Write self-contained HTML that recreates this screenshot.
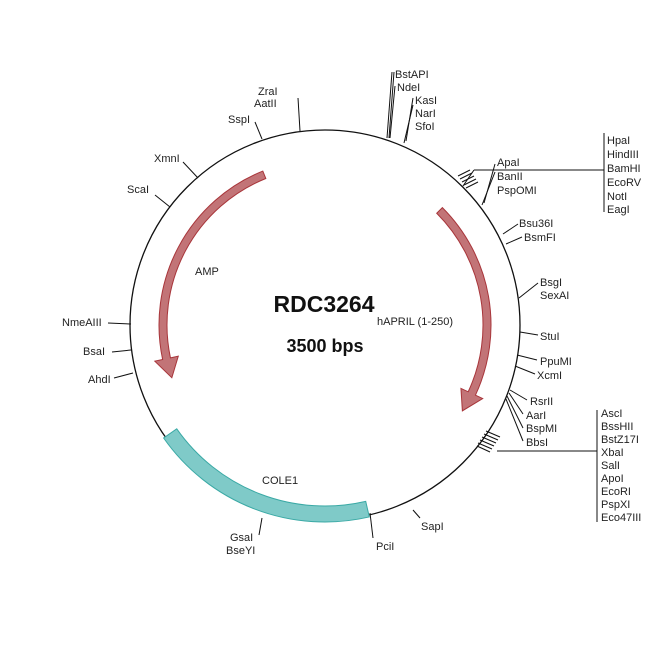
<!DOCTYPE html>
<html><head><meta charset="utf-8"><style>
html,body{margin:0;padding:0;background:#fff}
svg text{font-family:"Liberation Sans",Arial,sans-serif;font-size:11px;fill:#222}
</style></head><body>
<svg id="s" width="650" height="650" viewBox="0 0 650 650" xmlns="http://www.w3.org/2000/svg">
<circle cx="325" cy="325" r="195" fill="none" stroke="#111" stroke-width="1.3"/>
<path id="cole" fill="#7fcac8" stroke="#3aa9a5" stroke-width="1"/>
<path id="amp" fill="#c27477" stroke="#a8353a" stroke-width="1"/>
<path id="hap" fill="#c27477" stroke="#a8353a" stroke-width="1"/>
<g stroke="#111" stroke-width="1" fill="none">
<path d="M298 98 L300 131"/>
<path d="M255 122 L262 139"/>
<path d="M183 162 L198 178"/>
<path d="M155 195 L170 207"/>
<path d="M108 323 L131 324"/>
<path d="M112 352 L131 350"/>
<path d="M114 378 L133 373"/>
<path d="M392 72 L387 138"/><path d="M394 72 L389 138"/><path d="M395 86 L390 138"/>
<path d="M413 98 L406 141"/><path d="M413 105 L404 143"/>
<path d="M495 164 L484 203"/><path d="M495 172 L482 205"/>
<path d="M474 170 L604 170"/><path d="M604 133 L604 212"/>
<path d="M474 170 L463 186"/>
<path d="M458 176 L470 170"/><path d="M460 179 L472 173"/><path d="M462 182 L474 176"/><path d="M464 185 L476 179"/><path d="M466 188 L478 182"/>
<path d="M518 224 L503 234"/><path d="M522 237 L506 244"/>
<path d="M538 283 L519 298"/>
<path d="M520 332 L538 335"/>
<path d="M517 355 L537 360"/><path d="M515 366 L535 374"/>
<path d="M527 400 L510 390"/><path d="M523 414 L509 393"/><path d="M523 428 L507 396"/><path d="M523 441 L506 399"/>
<path d="M497 451 L597 451"/><path d="M597 410 L597 522"/>
<path d="M480 440 L494 446"/><path d="M482 437 L496 443"/><path d="M484 434 L498 440"/><path d="M486 431 L500 437"/><path d="M478 443 L492 449"/><path d="M477 446 L490 452"/>
<path d="M413 510 L420 518"/>
<path d="M370 513 L373 538"/>
<path d="M262 518 L259 535"/>
</g>
<text x="258" y="95">ZraI</text><text x="254" y="107">AatII</text>
<text x="228" y="123">SspI</text>
<text x="154" y="162">XmnI</text>
<text x="127" y="193">ScaI</text>
<text x="62" y="326">NmeAIII</text>
<text x="83" y="355">BsaI</text>
<text x="88" y="383">AhdI</text>
<text x="395" y="78">BstAPI</text><text x="397" y="91">NdeI</text>
<text x="415" y="104">KasI</text><text x="415" y="117">NarI</text><text x="415" y="130">SfoI</text>
<text x="497" y="166">ApaI</text><text x="497" y="180">BanII</text><text x="497" y="194">PspOMI</text>
<text x="607" y="144">HpaI</text><text x="607" y="158">HindIII</text><text x="607" y="172">BamHI</text><text x="607" y="186">EcoRV</text><text x="607" y="200">NotI</text><text x="607" y="213">EagI</text>
<text x="519" y="227">Bsu36I</text><text x="524" y="241">BsmFI</text>
<text x="540" y="286">BsgI</text><text x="540" y="299">SexAI</text>
<text x="540" y="340">StuI</text>
<text x="540" y="365">PpuMI</text><text x="537" y="379">XcmI</text>
<text x="530" y="405">RsrII</text><text x="526" y="419">AarI</text><text x="526" y="432">BspMI</text><text x="526" y="446">BbsI</text>
<text x="601" y="417">AscI</text><text x="601" y="430">BssHII</text><text x="601" y="443">BstZ17I</text><text x="601" y="456">XbaI</text><text x="601" y="469">SalI</text><text x="601" y="482">ApoI</text><text x="601" y="495">EcoRI</text><text x="601" y="508">PspXI</text><text x="601" y="521">Eco47III</text>
<text x="421" y="530">SapI</text>
<text x="376" y="550">PciI</text>
<text x="230" y="541">GsaI</text><text x="226" y="554">BseYI</text>
<text x="195" y="275">AMP</text>
<text x="262" y="484">COLE1</text>
<text x="377" y="325">hAPRIL (1-250)</text>
<text x="324" y="312" text-anchor="middle" style="font-size:23px;font-weight:bold;fill:#111">RDC3264</text>
<text x="325" y="352" text-anchor="middle" style="font-size:18px;font-weight:bold;fill:#111">3500 bps</text>
</svg>
<script>
var C=325;
function P(r,a){a=a*Math.PI/180;return (C+r*Math.sin(a)).toFixed(2)+" "+(C-r*Math.cos(a)).toFixed(2);}
function band(r1,r2,a1,a2){var l=Math.abs(a2-a1)>180?1:0;var sw=a2>a1?1:0;
return "M"+P(r2,a1)+" A"+r2+" "+r2+" 0 "+l+" "+sw+" "+P(r2,a2)+" L"+P(r1,a2)+" A"+r1+" "+r1+" 0 "+l+" "+(1-sw)+" "+P(r1,a1)+"Z";}
function arrow(r,w,a1,a2,hl,hw){var d=a2>a1?1:-1;var b=a2-d*hl;var ro=r+w/2,ri=r-w/2;var sw=d>0?1:0;
return "M"+P(ro,a1)+" A"+ro+" "+ro+" 0 0 "+sw+" "+P(ro,b)+" L"+P(r+hw,b)+" L"+P(r,a2)+" L"+P(r-hw,b)+" L"+P(ri,b)+" A"+ri+" "+ri+" 0 0 "+(1-sw)+" "+P(ri,a1)+"Z";}
document.getElementById("cole").setAttribute("d",band(181,197,167,235));
document.getElementById("amp").setAttribute("d",arrow(162,8,338,251,7,12));
document.getElementById("hap").setAttribute("d",arrow(162,8,45,122,7,12));
</script>
</body></html>
